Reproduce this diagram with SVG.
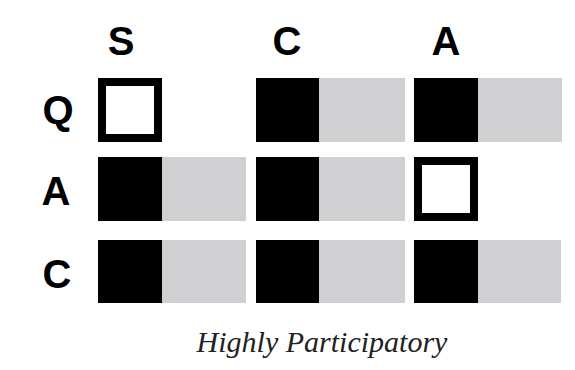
<svg xmlns="http://www.w3.org/2000/svg" width="575" height="370" viewBox="0 0 575 370">
<style>
.lbl{font-family:"Liberation Sans",Arial,sans-serif;font-weight:bold;font-size:40px;fill:#000;text-anchor:middle}
.cap{font-family:"Liberation Serif","Times New Roman",serif;font-style:italic;font-size:30px;fill:#222;text-anchor:middle}
.blk{fill:#000}
.gry{fill:#d0d0d2}
.open{fill:#fff;stroke:#000;stroke-width:8}
</style>
<rect width="575" height="370" fill="#fff"/>
<g id="headers">
<text class="lbl" x="121" y="55">S</text>
<text class="lbl" x="287" y="55">C</text>
<text class="lbl" x="446" y="55">A</text>
</g>
<g id="rowlabels">
<text class="lbl" x="58" y="124">Q</text>
<text class="lbl" x="56" y="205">A</text>
<text class="lbl" x="57" y="288">C</text>
</g>
<g id="row-Q">
<rect class="open" x="102" y="82" width="56" height="56"/>
<rect class="gry" x="319" y="78" width="86" height="64"/>
<rect class="blk" x="256" y="78" width="63" height="64"/>
<rect class="gry" x="478" y="78" width="84" height="64"/>
<rect class="blk" x="414" y="78" width="64" height="64"/>
</g>
<g id="row-A">
<rect class="gry" x="162" y="157" width="84" height="64"/>
<rect class="blk" x="98" y="157" width="64" height="64"/>
<rect class="gry" x="319" y="157" width="86" height="64"/>
<rect class="blk" x="256" y="157" width="63" height="64"/>
<rect class="open" x="418" y="161" width="56" height="56"/>
</g>
<g id="row-C">
<rect class="gry" x="162" y="240" width="84" height="63"/>
<rect class="blk" x="98" y="240" width="64" height="63"/>
<rect class="gry" x="319" y="240" width="86" height="63"/>
<rect class="blk" x="256" y="240" width="63" height="63"/>
<rect class="gry" x="478" y="240" width="83" height="63"/>
<rect class="blk" x="414" y="240" width="64" height="63"/>
</g>
<g id="connectors"></g>
<g id="caption">
<text class="cap" x="322" y="352">Highly Participatory</text>
</g>
</svg>
